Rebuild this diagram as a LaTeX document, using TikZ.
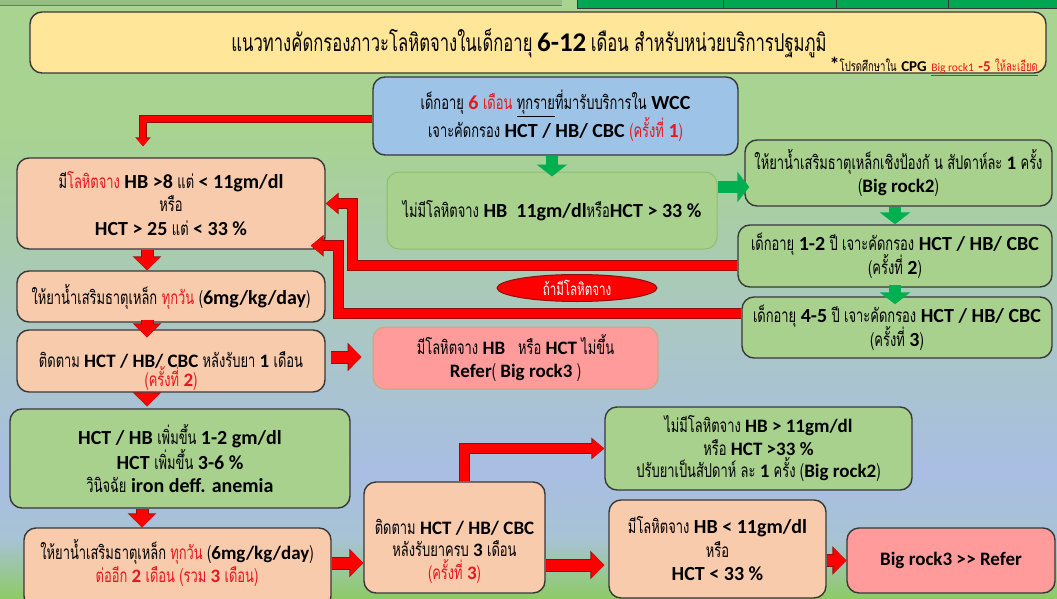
\documentclass[tikz,border=0pt]{standalone}
\usepackage{fontspec}
\setmainfont{Carlito}
\newfontfamily\thf[Script=Thai,FakeStretch=0.68]{Loma}
\usetikzlibrary{arrows.meta,calc,shapes.geometric}
\definecolor{bgG}{HTML}{A8D390}
\definecolor{bgM}{HTML}{AAC7C4}
\definecolor{bgB}{HTML}{A9BEE3}
\definecolor{bgB2}{HTML}{A7C3D4}
\definecolor{bgG2}{HTML}{8DCB63}
\definecolor{stripD}{HTML}{00A650}
\definecolor{bline}{HTML}{383838}
\definecolor{titleF}{HTML}{FFE699}
\definecolor{blueF}{HTML}{9DC3E6}
\definecolor{orangeF}{HTML}{F8CBAD}
\definecolor{greenF}{HTML}{A9D18E}
\definecolor{pinkF}{HTML}{FF9B9B}
\definecolor{tred}{HTML}{E8161E}
\definecolor{dred}{HTML}{8E1010}
\definecolor{garrow}{HTML}{00B050}
\definecolor{softG}{HTML}{8FBE6E}
\definecolor{softP}{HTML}{C9A878}
\newcommand\tx[1]{{\thf\mdseries\fontsize{19}{22}\selectfont #1}}
\newcommand\txs[2]{{\thf\mdseries\fontsize{#1}{#1}\selectfont #2}}
\newcommand\E{\fontsize{20}{23.5}\selectfont\bfseries}
\newcommand\Es{\fontsize{19}{22.5}\selectfont\bfseries}
\begin{document}
\begin{tikzpicture}[x=1pt,y=-1pt,
  box/.style={draw=bline, line width=1.4pt, rounded corners=12pt, align=center, inner sep=0pt, font=\E},
  txt/.style={align=center, inner sep=0pt, font=\E},
  gar/.style={draw=garrow, line width=12pt, -{Triangle[width=30pt,length=12pt]}},
  rar/.style={draw=red, line width=11pt, -{Triangle[width=25pt,length=13pt]},
     preaction={draw=dred, line width=13pt, -{Triangle[width=28pt,length=14pt]}}},
  rarL/.style={draw=red, line width=9pt, -{Triangle[width=18pt,length=12pt]},
     preaction={draw=dred, line width=11pt, -{Triangle[width=21pt,length=13pt]}}},
  rarS/.style={draw=red, line width=6pt, -{Triangle[width=13pt,length=8pt]},
     preaction={draw=dred, line width=7.5pt, -{Triangle[width=15pt,length=9pt]}}}
]
\useasboundingbox (0,0) rectangle (1057,599);
\clip (0,0) rectangle (1057,599);
% background
\fill[bgG] (0,0) rectangle (1057,131);
\shade[top color=bgG, bottom color=bgM] (0,130) rectangle (1057,331);
\shade[top color=bgM, bottom color=bgB] (0,330) rectangle (1057,471);
\shade[top color=bgB, bottom color=bgB2] (0,470) rectangle (1057,541);
\shade[top color=bgB2, bottom color=bgG2] (0,540) rectangle (1057,599);
% top strip
\fill[bgG!90!black] (0,0) rectangle (562,5);
\draw[bline!70, line width=0.8pt] (0,5) -- (562,5);
\fill[stripD] (577,0) rectangle (1057,8);
\foreach \xx in {577,723,836,948} \draw[bline, line width=0.8pt] (\xx,0) -- (\xx,8);
\draw[bline, line width=0.8pt] (577,8) -- (1057,8);
% title
\node[box, fill=titleF, minimum width=1016pt, minimum height=61pt] (tbox) at (538,42.5) {};
\node[txt] (ttl) at (529,43) {\txs{24.5}{แนวทางคัดกรองภาวะโลหิตจางในเด็กอายุ} {\fontsize{27}{27}\selectfont\bfseries 6-12} \txs{24.5}{เดือน สำหรับหน่วยบริการปฐมภูมิ}};
\node[txt, anchor=east] (sub) at (1038,66.5) {*\txs{14}{โปรดศึกษาใน} {\fontsize{15}{15}\selectfont CPG} \textcolor{tred}{\underline{{\fontsize{11.5}{11.5}\selectfont\mdseries Big rock1} {\fontsize{15}{15}\selectfont -5} \txs{14}{ให้ละเอียด}}}};
% boxes
\node[box, fill=blueF, minimum width=365pt, minimum height=78pt] (blue) at (555.5,116)
  {\tx{เด็กอายุ} \textcolor{tred}{6 \tx{เดือน}} \tx{\underline{ทุกราย}ที่มารับบริการใน} WCC\\
   \tx{เจาะคัดกรอง} HCT / HB/ CBC \textcolor{tred}{\tx{(ครั้งที่} 1\tx{)}}};
\node[box, draw=softG, line width=1pt, fill=greenF, minimum width=330pt, minimum height=77pt] (mid) at (552,210.5)
  {\tx{ไม่มีโลหิตจาง} HB\ \ 11gm/dl\tx{หรือ}HCT > 33 \%};
\node[box, fill=orangeF, minimum width=308pt, minimum height=91pt] (box1) at (171,203.5)
  {\tx{มี}\textcolor{tred}{\tx{โลหิตจาง}} HB >8 \tx{แต่} < 11gm/dl\\ \tx{หรือ}\\ HCT > 25 \tx{แต่} < 33 \%};
\node[box, fill=orangeF, minimum width=308pt, minimum height=51pt] (box2) at (171,296.5)
  {\tx{ให้ยาน้ำเสริมธาตุเหล็ก} \textcolor{tred}{\tx{ทุกวัน}} \tx{(}6mg/kg/day\tx{)}};
\node[box, fill=orangeF, minimum width=308pt, minimum height=62pt] (box3) at (171,361) {};
\node[txt, font=\Es] (box3t) at (171,371)
  {\tx{ติดตาม} HCT / HB/ CBC \tx{หลังรับยา} 1 \tx{เดือน}\\[-3pt] \textcolor{tred}{\tx{(ครั้งที่} 2\tx{)}}};
\node[box, draw=softP, line width=1pt, fill=pinkF, minimum width=285pt, minimum height=62pt, font=\Es] (refer) at (515.5,358)
  {\tx{มีโลหิตจาง} HB\ \ \ \tx{หรือ} HCT \tx{ไม่ขึ้น}\\ Refer\tx{(} Big rock3 \tx{)}};
\node[box, fill=greenF, minimum width=307pt, minimum height=66pt, font=\Es] (A) at (898.5,173)
  {\tx{ให้ยาน้ำเสริมธาตุเหล็กเชิงป้องกั น สัปดาห์ละ} 1 \tx{ครั้ง}\\ \tx{(}Big rock2\tx{)}};
\node[box, fill=greenF, minimum width=314pt, minimum height=62pt] (B) at (895,256)
  {\tx{เด็กอายุ} 1-2 \tx{ปี เจาะคัดกรอง} HCT / HB/ CBC\\[-2pt] \tx{(ครั้งที่} 2\tx{)}};
\node[box, fill=greenF, minimum width=310pt, minimum height=61pt] (C) at (897,327.5)
  {\tx{เด็กอายุ} 4-5 \tx{ปี เจาะคัดกรอง} HCT / HB/ CBC\\[-2pt] \tx{(ครั้งที่} 3\tx{)}};
\node[ellipse, draw=dred, line width=1pt, fill=red, minimum width=160pt, minimum height=27pt, inner sep=0pt] (ifan) at (577,288)
  {\textcolor{white}{\txs{17}{ถ้ามีโลหิตจาง}}};
\node[box, fill=greenF, minimum width=340pt, minimum height=99pt] (box4) at (180,458.5)
  {HCT / HB \tx{เพิ่มขึ้น} 1-2 gm/dl\\ HCT \tx{เพิ่มขึ้น} 3-6 \%\\ \tx{วินิจฉัย} iron deff. anemia};
\node[box, fill=orangeF, minimum width=307pt, minimum height=80pt] (box5) at (177.5,568) {};
\node[txt, font=\Es] (box5t) at (177,563)
  {\tx{ให้ยาน้ำเสริมธาตุเหล็ก} \textcolor{tred}{\tx{ทุกวัน}} \tx{(}6mg/kg/day\tx{)}\\ \textcolor{tred}{\tx{ต่ออีก} 2 \tx{เดือน (รวม} 3 \tx{เดือน)}}};
\node[box, fill=orangeF, minimum width=181pt, minimum height=111pt] (box6) at (454.5,537.5) {};
\node[txt, font=\Es] (box6t) at (454.5,551)
  {\tx{ติดตาม} HCT / HB/ CBC\\ \tx{หลังรับยาครบ} 3 \tx{เดือน}\\ \textcolor{tred}{\tx{(ครั้งที่} 3\tx{)}}};
\node[box, fill=greenF, minimum width=307pt, minimum height=83pt, font=\Es] (box7) at (758.5,448.5)
  {\tx{ไม่มีโลหิตจาง} HB > 11gm/dl\\ \tx{หรือ} HCT >33 \%\\ \tx{ปรับยาเป็นสัปดาห์ ละ} 1 \tx{ครั้ง (}Big rock2\tx{)}};
\node[box, fill=orangeF, minimum width=217pt, minimum height=98pt] (box8) at (717.5,549)
  {\tx{มีโลหิตจาง} HB < 11gm/dl\\ \tx{หรือ}\\ HCT < 33 \%};
\node[box, fill=pinkF, minimum width=208pt, minimum height=65pt, font=\Es] (box9) at (951,560.5)
  {Big rock3 >\kern0.3pt> Refer};
% green connectors
\draw[gar] (mid.north |- blue.south) -- ([yshift=-5pt]mid.north);
\coordinate (ga) at ([xshift=5pt,yshift=-14pt]A.west);
\draw[gar] (mid.east |- ga) -- (ga);
\draw[gar] (B.north |- A.south) -- (B.north);
\coordinate (bc) at (B.south |- C.north);
\draw[gar] ([yshift=3pt]B.south) -- ([yshift=-8pt]bc);
% red connectors
\draw[rarS] ([yshift=-3pt]blue.west) -| ([xshift=-28pt,yshift=11pt]box1.north);
\draw[rarL] ([yshift=-9pt]B.west) -| ($(box1.east)+(27pt,0pt)$) -- (box1.east);
\draw[rarL] ([yshift=14.5pt]C.west) -| ($(box1.south east)+(13pt,4pt)$) -- ($(box1.south east)+(-15pt,4pt)$);
\draw[rar] ([xshift=-24pt]box1.south) -- ([xshift=-24pt]box2.north);
\draw[rar] ([xshift=-24pt,yshift=3pt]box2.south) -- ([xshift=-24pt,yshift=-8pt]box3.north);
\coordinate (a34) at ([xshift=-24pt]box3.south);
\draw[rar] (a34) -- ([yshift=2pt]a34 |- box4.north);
\coordinate (a45) at ([xshift=-38pt]box4.south);
\draw[rar] (a45) -- (a45 |- box5.north);
\coordinate (r1) at ([xshift=5pt,yshift=4pt]box3.east);
\coordinate (r2) at ([xshift=-11pt]refer.west);
\draw[rar] (r1) -- (r1 -| r2);
\draw[rar] (box5.east |- box5t) -- (box5t -| box6.west);
\draw[rarL] ([xshift=9.5pt]box6.north) |- (box7.west);
\coordinate (p68) at ([xshift=-4pt,yshift=-16pt]box8.west);
\draw[rar] (box6.east |- p68) -- (p68);
\draw[rar] (box8.east |- box9.west) -- (box9.west);
\end{tikzpicture}
\end{document}
